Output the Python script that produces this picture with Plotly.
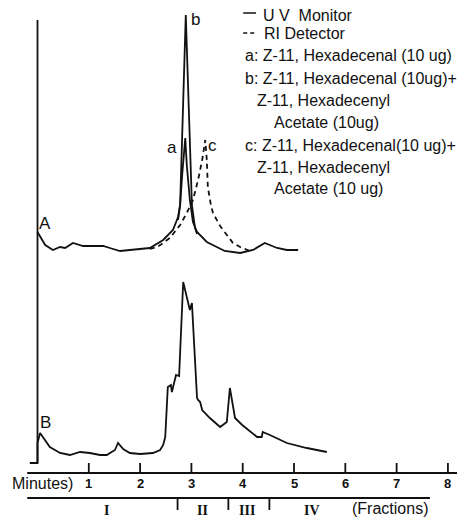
import plotly.graph_objects as go

# ---- data (minutes, detector response in arbitrary units above the time axis) ----
uv_a_t = [0.00, 0.15, 0.30, 0.44, 0.54, 0.69, 0.89, 1.28, 1.41, 1.61, 1.80, 2.19, 2.45, 2.64, 2.74, 2.78,
          2.82, 2.88, 2.91, 2.97, 3.03, 3.11, 3.30, 3.65, 3.95, 4.20, 4.43, 4.67, 4.86, 5.08]
uv_a_y = [241, 228, 223, 226, 225, 230, 227, 227, 225, 222, 223, 225, 233, 243, 256, 268,
          298, 335, 308, 273, 251, 241, 231, 222, 220, 223, 230, 225, 223, 223]

uv_b_t = [2.74, 2.78, 2.89, 3.01, 3.07, 3.11]
uv_b_y = [253, 268, 458, 268, 245, 239]

ri_c_t = [2.19, 2.33, 2.45, 2.58, 2.78, 2.91, 3.03, 3.13, 3.21, 3.27, 3.30, 3.32, 3.38, 3.42, 3.56,
          3.69, 3.81, 3.95, 4.14]
ri_c_y = [224, 226, 230, 235, 248, 260, 273, 293, 313, 333, 313, 286, 268, 260, 247,
          238, 230, 226, 222]

trace_b_t = [-0.15, 0.0, 0.0, 0.05, 0.24, 0.44, 0.63, 0.83, 1.02, 1.22, 1.35, 1.51, 1.57, 1.67, 1.80,
             2.00, 2.25, 2.39, 2.45, 2.49, 2.54, 2.60, 2.62, 2.70, 2.76, 2.84, 2.97, 2.99, 3.01,
             3.11, 3.13, 3.17, 3.21, 3.36, 3.56, 3.69, 3.75, 3.85, 3.99, 4.28, 4.37, 4.39, 4.53,
             4.86, 5.25, 5.64]
trace_b_y = [10, 10, 30, 40, 26, 20, 18, 21, 20, 18, 18, 23, 30, 24, 20,
             19, 20, 23, 28, 36, 86, 88, 81, 98, 97, 191, 163, 166, 170,
             75, 73, 71, 63, 55, 46, 51, 85, 55, 48, 36, 36, 41, 38,
             30, 25, 21]

minute_ticks = [1, 2, 3, 4, 5, 6, 7, 8]
fraction_bounds = [2.73, 3.72, 4.52]
fraction_labels = ["I", "II", "III", "IV"]
fraction_centers = [1.35, 3.21, 4.08, 5.35]

legend_rows = [
    ("U V  Monitor", 4.36, 458),
    ("RI Detector", 4.38, 440),
    ("a: Z-11, Hexadecenal (10 ug)", 4.01, 418),
    ("b: Z-11, Hexadecenal (10ug)+", 4.01, 395),
    ("Z-11, Hexadecenyl", 4.24, 373),
    ("Acetate (10ug)", 4.57, 351),
    ("c: Z-11, Hexadecenal(10 ug)+", 4.01, 328),
    ("Z-11, Hexadecenyl", 4.24, 306),
    ("Acetate (10 ug)", 4.57, 285),
]

ink = "#111111"
fig = go.Figure()
line_w = 1.8
fig.add_trace(go.Scatter(x=uv_a_t, y=uv_a_y, mode="lines", line=dict(color=ink, width=line_w), hoverinfo="skip"))
fig.add_trace(go.Scatter(x=uv_b_t, y=uv_b_y, mode="lines", line=dict(color=ink, width=line_w), hoverinfo="skip"))
fig.add_trace(go.Scatter(x=ri_c_t, y=ri_c_y, mode="lines", line=dict(color=ink, width=line_w, dash="5px,4px"), hoverinfo="skip"))
fig.add_trace(go.Scatter(x=trace_b_t, y=trace_b_y, mode="lines", line=dict(color=ink, width=line_w), hoverinfo="skip"))

shapes = []
# vertical pen line
shapes.append(dict(type="line", x0=0, x1=0, y0=10, y1=453, line=dict(color=ink, width=1.8)))
# minute axis
shapes.append(dict(type="line", x0=-0.2, x1=8.18, y0=0, y1=0, line=dict(color=ink, width=1.8)))
for t in minute_ticks:
    shapes.append(dict(type="line", x0=t, x1=t, y0=0, y1=10, line=dict(color=ink, width=1.8)))
# fraction line
shapes.append(dict(type="line", x0=-0.2, x1=7.65, y0=-25, y1=-25, line=dict(color=ink, width=1.8)))
for t in fraction_bounds:
    shapes.append(dict(type="line", x0=t, x1=t, y0=-26, y1=-37, line=dict(color=ink, width=1.8)))
# legend samples
shapes.append(dict(type="line", x0=4.01, x1=4.26, y0=460, y1=460, line=dict(color=ink, width=1.5)))
shapes.append(dict(type="line", x0=4.01, x1=4.26, y0=440, y1=440, line=dict(color=ink, width=1.5, dash="4px,3px")))

ann = []
font = dict(family="Liberation Sans, Arial", size=16, color=ink)
for txt, x, y in legend_rows:
    ann.append(dict(x=x, y=y, text=txt, showarrow=False, xanchor="left", yanchor="middle", font=font))
for txt, x, y in [("b", 3.07, 454), ("a", 2.62, 326), ("c", 3.42, 328), ("A", 0.15, 250), ("B", 0.15, 51)]:
    ann.append(dict(x=x, y=y, text=txt, showarrow=False, xanchor="center", yanchor="middle",
                    font=dict(family="Liberation Sans, Arial", size=17, color=ink)))
for t in minute_ticks:
    ann.append(dict(x=t, y=-10, text="<b>" + str(t) + "</b>", showarrow=False, xanchor="center", yanchor="middle",
                    font=dict(family="Liberation Sans, Arial", size=13, color=ink)))
ann.append(dict(x=0.74, y=-10, text="Minutes)", showarrow=False, xanchor="right", yanchor="middle",
                font=dict(family="Liberation Sans, Arial", size=16, color=ink)))
for lab, c in zip(fraction_labels, fraction_centers):
    ann.append(dict(x=c, y=-37, text="<b>" + lab + "</b>", showarrow=False, xanchor="center", yanchor="middle",
                    font=dict(family="Liberation Serif, Times New Roman", size=14, color=ink)))
ann.append(dict(x=6.87, y=-35, text="(Fractions)", showarrow=False, xanchor="center", yanchor="middle",
                font=dict(family="Liberation Sans, Arial", size=16, color=ink)))

fig.update_layout(
    width=457, height=518,
    margin=dict(l=0, r=0, t=0, b=0),
    paper_bgcolor="white", plot_bgcolor="white",
    showlegend=False,
    xaxis=dict(range=[-0.731, 8.177], visible=False, fixedrange=True),
    yaxis=dict(range=[-45, 473], visible=False, fixedrange=True),
    shapes=shapes, annotations=ann,
)
fig.write_html("out.html")
